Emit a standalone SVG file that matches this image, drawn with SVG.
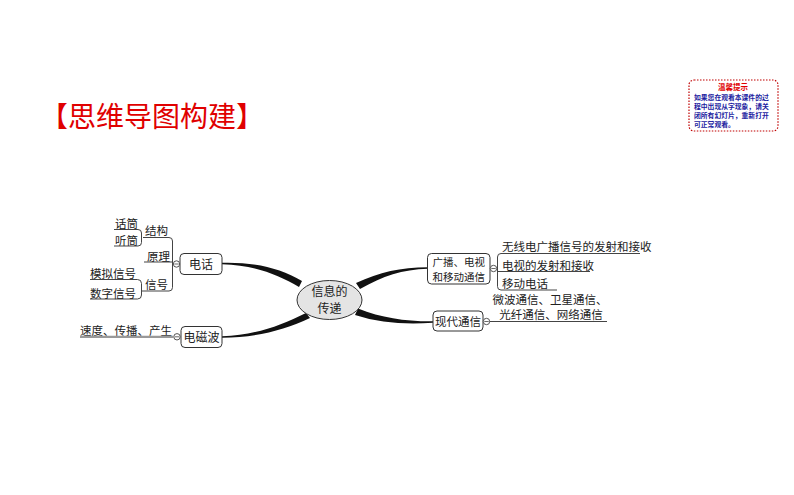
<svg xmlns="http://www.w3.org/2000/svg" width="794" height="495" viewBox="0 0 794 495">
<style>
  .t { font-family: "Noto Sans CJK SC", "Noto Sans", sans-serif; fill: #222; }
  .leaf { font-size: 11.5px; }
  .box { fill: #fff; stroke: #333; stroke-width: 1; }
  .ln { fill: none; stroke: #444; stroke-width: 1; }
  .conn { fill: #111; stroke: none; }
  .knob { fill: #fff; stroke: #444; stroke-width: 0.9; }
</style>
<rect width="794" height="495" fill="#fff"/>

<g id="title">
  <text x="40" y="127" font-family="'Noto Sans CJK SC', sans-serif" font-size="28" fill="#e00000">【思维导图构建】</text>
</g>

<g id="tip">
  <rect x="689" y="80" width="89" height="51" rx="5" fill="#fff" stroke="#c00000" stroke-width="1.2" stroke-dasharray="1.5 1.5"/>
  <text x="733" y="89.5" text-anchor="middle" font-family="'Noto Sans CJK SC', sans-serif" font-size="7.5" font-weight="bold" fill="#e00000">温馨提示</text>
  <g font-family="'Noto Sans CJK SC', sans-serif" font-size="6.8" font-weight="bold" fill="#1a1aa0">
    <text x="694" y="100">如果您在观看本课件的过</text>
    <text x="694" y="109">程中出现从字现象，请关</text>
    <text x="694" y="118">闭所有幻灯片，重新打开</text>
    <text x="694" y="127">可正常观看。</text>
  </g>
</g>

<g id="connectors">
  <path class="conn" d="M222,262.8 C255,262 280,268 302,281 L299,287 C278,275 255,265 222,264.3 Z"/>
  <path class="conn" d="M222,336.3 C255,335 280,326 306,313 L310,318 C284,330 256,337.8 222,337.8 Z"/>
  <path class="conn" d="M356,283 C380,272 400,267.5 428,267.3 L428,268.8 C402,269.5 383,276 360,289 Z"/>
  <path class="conn" d="M358,308.5 C382,318 405,321.5 433,321.3 L433,322.8 C404,324.5 380,323 355,315 Z"/>
</g>

<g id="center">
  <ellipse cx="329.5" cy="300" rx="32.5" ry="19.5" fill="#e4e4e4" stroke="#333" stroke-width="1"/>
  <text class="t" x="329.5" y="295.5" text-anchor="middle" font-size="12">信息的</text>
  <text class="t" x="329.5" y="313" text-anchor="middle" font-size="12">传递</text>
</g>

<g id="dianhua">
  <rect class="box" x="180" y="253.5" width="42" height="21" rx="4"/>
  <text class="t" x="201" y="268.5" text-anchor="middle" font-size="12">电话</text>
  <circle class="knob" cx="176.5" cy="264" r="3.2"/>
  <line x1="174.3" y1="264" x2="178.7" y2="264" stroke="#444" stroke-width="0.8"/>
  <path class="ln" d="M143,237.5 H169 Q172.5,237.5 172.5,241 V287.5 Q172.5,291 169,291 H142"/>
  <line class="ln" x1="144" y1="262" x2="172.5" y2="262"/>
</g>

<g id="jiegou">
  <text class="t leaf" x="145" y="235">结构</text>
  <path class="ln" d="M114,229.5 H138 Q141.5,229.5 141.5,233 V242.5 Q141.5,246 138,246 H114"/>
</g>
<g id="huatong">
  <text class="t leaf" x="115" y="227.5">话筒</text>
</g>
<g id="tingtong">
  <text class="t leaf" x="115" y="244.5">听筒</text>
</g>
<g id="yuanli">
  <text class="t leaf" x="147" y="260.5">原理</text>
</g>
<g id="xinhao">
  <text class="t leaf" x="145" y="289">信号</text>
  <path class="ln" d="M90,279.5 H137.5 Q141.5,279.5 141.5,283.5 V295 Q141.5,299 137.5,299 H90"/>
</g>
<g id="moni">
  <text class="t leaf" x="90" y="278">模拟信号</text>
</g>
<g id="shuzi">
  <text class="t leaf" x="90" y="297.5">数字信号</text>
</g>

<g id="diancibo">
  <rect class="box" x="181" y="326.5" width="41" height="21" rx="4"/>
  <text class="t" x="201.5" y="341.5" text-anchor="middle" font-size="12">电磁波</text>
  <circle class="knob" cx="177" cy="336.8" r="3.2"/>
  <line x1="174.8" y1="336.8" x2="179.2" y2="336.8" stroke="#444" stroke-width="0.8"/>
</g>
<g id="sudu">
  <text class="t leaf" x="80" y="334.5">速度、传播、产生</text>
  <line x1="80" y1="336.8" x2="173.8" y2="336.8" stroke="#999" stroke-width="2.2"/>
</g>

<g id="guangbo">
  <rect class="box" x="427.5" y="253.5" width="62.5" height="30.5" rx="4"/>
  <text class="t" x="458.8" y="265.5" text-anchor="middle" font-size="10.5">广播、电视</text>
  <text class="t" x="458.8" y="280.5" text-anchor="middle" font-size="10.5">和移动通信</text>
  <circle class="knob" cx="493.5" cy="268.5" r="3.2"/>
  <line x1="491.3" y1="268.5" x2="495.7" y2="268.5" stroke="#444" stroke-width="0.8"/>
  <path class="ln" d="M640,253.5 H501 Q497.5,253.5 497.5,257 V286.5 Q497.5,290 501,290 H557"/>
  <line class="ln" x1="497.5" y1="271.5" x2="590" y2="271.5"/>
</g>
<g id="wuxian">
  <text class="t leaf" x="502" y="251">无线电广播信号的发射和接收</text>
</g>
<g id="dianshi">
  <text class="t leaf" x="502" y="269.5">电视的发射和接收</text>
</g>
<g id="yidong">
  <text class="t leaf" x="502" y="288">移动电话</text>
</g>

<g id="xiandai">
  <rect class="box" x="433" y="311" width="50" height="20" rx="4"/>
  <text class="t" x="458" y="325.5" text-anchor="middle" font-size="11.5">现代通信</text>
  <circle class="knob" cx="486.5" cy="321.5" r="3.2"/>
  <line x1="484.3" y1="321.5" x2="488.7" y2="321.5" stroke="#444" stroke-width="0.8"/>
  <line class="ln" x1="489.7" y1="321.5" x2="607" y2="321.5"/>
</g>
<g id="weibo">
  <text class="t leaf" x="550" y="304" text-anchor="middle">微波通信、卫星通信、</text>
  <text class="t leaf" x="551" y="318.5" text-anchor="middle">光纤通信、网络通信</text>
</g>
</svg>
